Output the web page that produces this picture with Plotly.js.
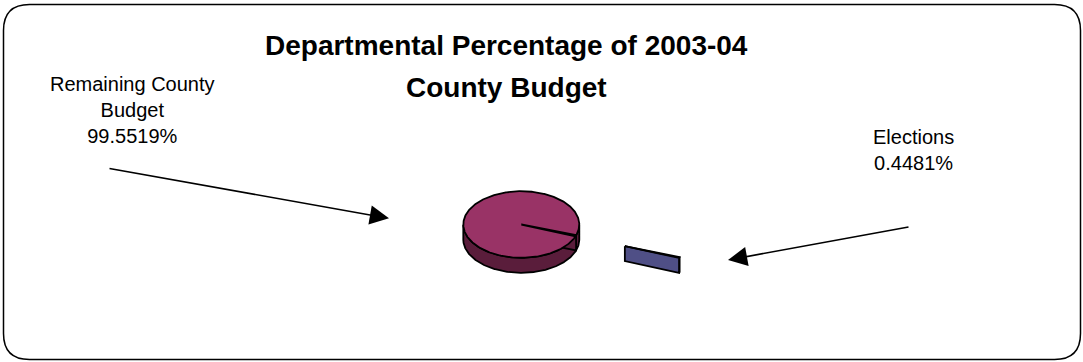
<!DOCTYPE html>
<html>
<head>
<meta charset="utf-8">
<script src="https://cdn.plot.ly/plotly-3.0.1.min.js"></script>
<style>html,body{margin:0;padding:0;background:#fff;}#chart{width:1083px;height:362px;}</style>
</head>
<body>
<div id="chart"></div>
<script>
// ---- data ----
const labels = ['Remaining County Budget', 'Elections'];
const labelLines = [['Remaining County', 'Budget'], ['Elections']];
const values = [99.5519, 0.4481];
const titleLines = ['Departmental Percentage of 2003-04', 'County Budget'];

// ---- style / geometry (not data) ----
const topColors = ['#993366', '#575790'];
const wallColors = ['#5a1d3b', '#4f4f86'];
const pulls = [0, 1.9];
const cx = 521.3, cy = 224.5, rx = 58, ry = 33.3, depth = 15, startDeg = -19.2;
const FONT = 'Liberation Sans, Arial, sans-serif';

const total = values.reduce((a, b) => a + b, 0);
const rad = d => d * Math.PI / 180;
const traces = [];
let cum = 0;
values.forEach((v, i) => {
  const a0 = startDeg + cum / total * 360;
  const a1 = a0 + v / total * 360;
  cum += v;
  const mid = (a0 + a1) / 2;
  const ox = pulls[i] * rx * Math.cos(rad(mid));
  const oy = -pulls[i] * ry * Math.sin(rad(mid));
  const P = (a, r, dz) => [cx + ox + r * rx * Math.cos(rad(a)), cy + oy - r * ry * Math.sin(rad(a)) + dz];
  const N = Math.max(4, Math.ceil((a1 - a0) * 1.5));
  const angs = [];
  for (let k = 0; k <= N; k++) angs.push(a0 + (a1 - a0) * k / N);
  const style = (fill) => ({type: 'scatter', mode: 'lines', fill: 'toself', fillcolor: fill,
    line: {color: '#000', width: 1.8}, hoverinfo: 'skip', showlegend: false, name: labels[i]});
  // outer wall, front-facing runs
  let runs = [], cur = [];
  angs.forEach(a => {
    if (Math.sin(rad(a)) <= 0.0001) cur.push(a);
    else { if (cur.length > 1) runs.push(cur); cur = []; }
  });
  if (cur.length > 1) runs.push(cur);
  runs.forEach(run => {
    const pts = run.map(a => P(a, 1, 0)).concat(run.slice().reverse().map(a => P(a, 1, depth)));
    pts.push(pts[0]);
    traces.push(Object.assign(style(wallColors[i]), {x: pts.map(p => p[0]), y: pts.map(p => p[1])}));
  });
  // radial faces that face the viewer
  [[a0, Math.cos(rad(a0)) > 0], [a1, Math.cos(rad(a1)) < 0]].forEach(([a, vis]) => {
    if (!vis) return;
    const pts = [P(a, 0, 0), P(a, 1, 0), P(a, 1, depth), P(a, 0, depth), P(a, 0, 0)];
    traces.push(Object.assign(style(wallColors[i]), {x: pts.map(p => p[0]), y: pts.map(p => p[1])}));
  });
  // top face
  const top = [P(0, 0, 0)].concat(angs.map(a => P(a, 1, 0)));
  top.push(top[0]);
  traces.push(Object.assign(style(topColors[i]), {x: top.map(p => p[0]), y: top.map(p => p[1])}));
});

const pct = values.map(v => v.toFixed(4) + '%');
const annotations = [
  {x: 506, y: 45, text: '<b>' + titleLines[0] + '</b>', fs: 28},
  {x: 506, y: 87, text: '<b>' + titleLines[1] + '</b>', fs: 28},
  {x: 132, y: 110, text: labelLines[0].concat([pct[0]]).join('<br>'), fs: 20},
  {x: 913, y: 150, text: labelLines[1].concat([pct[1]]).join('<br>'), fs: 20},
  {x: 389, y: 218.3, ax: 108, ay: 168.3, text: '', showarrow: true, fs: 12},
  {x: 728, y: 260, ax: 910, ay: 226.7, text: '', showarrow: true, fs: 12}
].map(a => {
  const o = {xref: 'x', yref: 'y', showarrow: !!a.showarrow, xanchor: 'center', yanchor: 'middle',
    x: a.x, y: a.y, text: a.text, font: {family: FONT, color: '#000', size: a.fs}};
  if (a.showarrow) Object.assign(o, {ax: a.ax, ay: a.ay, axref: 'x', ayref: 'y', arrowhead: 2, arrowsize: 2.4,
    arrowwidth: 1.6, arrowcolor: '#000', standoff: 0, startstandoff: 0});
  return o;
});

// rounded border
const bx0 = 3.5, by0 = 4.5, bx1 = 1080.5, by1 = 359.5, r = 26;
const border = `M${bx0 + r},${by0} L${bx1 - r},${by0} Q${bx1},${by0} ${bx1},${by0 + r} L${bx1},${by1 - r} Q${bx1},${by1} ${bx1 - r},${by1} L${bx0 + r},${by1} Q${bx0},${by1} ${bx0},${by1 - r} L${bx0},${by0 + r} Q${bx0},${by0} ${bx0 + r},${by0} Z`;

const layout = {
  width: 1083, height: 362,
  margin: {l: 0, r: 0, t: 0, b: 0, pad: 0},
  paper_bgcolor: '#fff', plot_bgcolor: '#fff',
  showlegend: false,
  xaxis: {range: [0, 1083], visible: false, fixedrange: true},
  yaxis: {range: [362, 0], visible: false, fixedrange: true},
  font: {family: FONT, color: '#000'},
  annotations: annotations,
  shapes: [{type: 'path', path: border, xref: 'x', yref: 'y', line: {color: '#000', width: 1.5}, fillcolor: 'rgba(0,0,0,0)'}]
};
Plotly.newPlot('chart', traces, layout, {displayModeBar: false, staticPlot: true});
</script>
</body>
</html>
